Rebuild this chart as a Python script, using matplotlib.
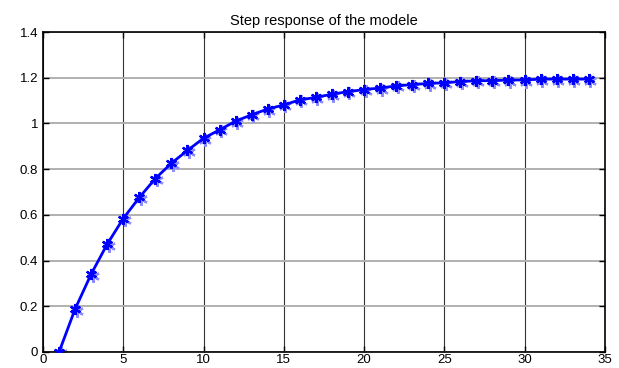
import numpy as np
import matplotlib
matplotlib.use('Agg')
import matplotlib.pyplot as plt

plt.rcParams['font.family'] = ['Liberation Sans', 'DejaVu Sans']

# sampled step response, one point per time step
t = np.arange(1, 35)
y = [0.0, 0.188, 0.341, 0.472, 0.584, 0.676, 0.759, 0.826, 0.882, 0.935,
     0.972, 1.010, 1.038, 1.063, 1.081, 1.103, 1.114, 1.128, 1.139, 1.148,
     1.155, 1.164, 1.170, 1.175, 1.178, 1.183, 1.187, 1.187, 1.190, 1.190,
     1.194, 1.194, 1.194, 1.194]

xticks = [0, 5, 10, 15, 20, 25, 30, 35]
yticks = [0, 0.2, 0.4, 0.6, 0.8, 1.0, 1.2, 1.4]
ylabels = ['0', '0.2', '0.4', '0.6', '0.8', '1', '1.2', '1.4']

fig = plt.figure(figsize=(6.19, 3.68), dpi=100)
ax = fig.add_axes([0.0695, 0.0435, 0.9075, 0.8695])

# light halo under the markers, then the line itself
shift = matplotlib.transforms.ScaledTranslation(1.5/100, -1.5/100, fig.dpi_scale_trans)
ax.plot(t, y, linestyle='none', marker=(6, 2, 0), markersize=9,
        markeredgewidth=1.6, color='#8c8cff', zorder=2,
        transform=ax.transData + shift)
ax.plot(t, y, color='#0000ff', linewidth=2, marker=(6, 2, 0),
        markersize=8, markeredgewidth=1.6, zorder=3)

ax.set_xlim(0, 35)
ax.set_ylim(0, 1.4)
ax.set_xticks(xticks)
ax.set_yticks(yticks)
ax.set_yticklabels(ylabels)

# vertical grid dark, horizontal grid lighter
ax.xaxis.grid(True, color='#333333', linewidth=0.8)
ax.yaxis.grid(True, color='#b0b0b0', linewidth=1.4)
ax.set_axisbelow(True)

ax.tick_params(direction='in', top=True, right=True, length=4,
               labelsize=9.5, width=1)
ax.tick_params(axis='x', pad=1.5)
for s in ax.spines.values():
    s.set_linewidth(1.2)

ax.set_title('Step response of the modele', fontsize=10.5, pad=5)

fig.savefig('out.png', dpi=100)
